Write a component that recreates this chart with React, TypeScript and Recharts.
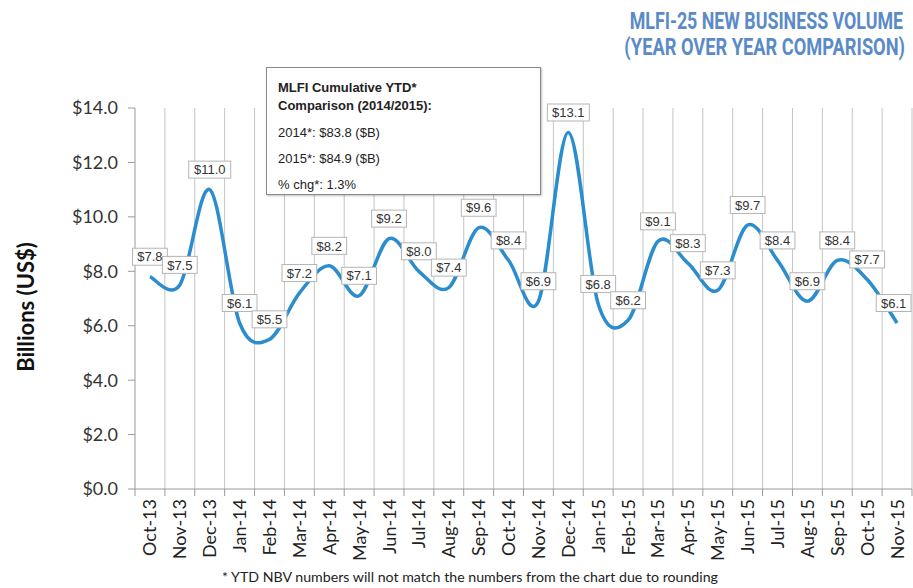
import React from 'react';
import { LineChart, Line, XAxis, YAxis, CartesianGrid } from 'recharts';

const months = ['Oct-13','Nov-13','Dec-13','Jan-14','Feb-14','Mar-14','Apr-14','May-14','Jun-14','Jul-14','Aug-14','Sep-14','Oct-14','Nov-14','Dec-14','Jan-15','Feb-15','Mar-15','Apr-15','May-15','Jun-15','Jul-15','Aug-15','Sep-15','Oct-15','Nov-15'];
const volumes = [7.8,7.5,11.0,6.1,5.5,7.2,8.2,7.1,9.2,8.0,7.4,9.6,8.4,6.9,13.1,6.8,6.2,9.1,8.3,7.3,9.7,8.4,6.9,8.4,7.7,6.1];
const yTicks = [0,2,4,6,8,10,12,14];
const titleLines = ['MLFI-25 NEW BUSINESS VOLUME','(YEAR OVER YEAR COMPARISON)'];
const boxLines = ['MLFI Cumulative YTD*','Comparison (2014/2015):','2014*: $83.8 ($B)','2015*: $84.9  ($B)','% chg*: 1.3%'];
const footnote = '*  YTD NBV numbers will not match the numbers from the chart due to rounding';

const data = months.map((m, i) => ({ month: m, value: volumes[i] }));

const W = 913, H = 588;
const M = { top: 108, right: 1, left: 0, bottom: 0 };
const YW = 135, XH = 99;
const PLOT_W = W - M.left - M.right - YW;
const BAND = PLOT_W / months.length;

const excelSmooth = (context: any) => {
  let pts: number[][] = [];
  return {
    areaStart() {},
    areaEnd() {},
    lineStart() { pts = []; },
    point(x: number, y: number) { pts.push([+x, +y]); },
    lineEnd() {
      if (!pts.length) return;
      context.moveTo(pts[0][0], pts[0][1]);
      for (let i = 0; i < pts.length - 1; i++) {
        const p0 = pts[i - 1] || pts[i];
        const p1 = pts[i];
        const p2 = pts[i + 1];
        const p3 = pts[i + 2] || p2;
        context.bezierCurveTo(
          p1[0] + (p2[0] - p0[0]) / 6, p1[1] + (p2[1] - p0[1]) / 6,
          p2[0] - (p3[0] - p1[0]) / 6, p2[1] - (p3[1] - p1[1]) / 6,
          p2[0], p2[1]
        );
      }
    },
  };
};

const XTick = (props: any) => {
  const { x, y, payload, index } = props;
  const last = index === months.length - 1;
  return (
    <g>
      <line x1={x - BAND / 2} x2={x - BAND / 2} y1={y - 8} y2={y - 1} stroke="#9a9a9a" />
      {last && <line x1={x + BAND / 2} x2={x + BAND / 2} y1={y - 8} y2={y - 1} stroke="#9a9a9a" />}
      <text transform={`translate(${x},${y + 2}) rotate(-90)`} textAnchor="end" dy="0.36em"
        fontFamily="Lato, 'Open Sans', sans-serif" fontSize={18} fill="#222">{payload.value}</text>
    </g>
  );
};

const ValueBox = (props: any) => {
  const { x, y, value } = props;
  const txt = '$' + Number(value).toFixed(1);
  const w = txt.length * 7.2 + 6;
  const h = 17;
  const cy = y - 20;
  const cx = Math.min(x, W - 2 - w / 2);
  return (
    <g>
      <rect x={cx - w / 2} y={cy - h / 2} width={w} height={h} fill="#fff" stroke="#b5b5b5" strokeWidth={1} />
      <text x={cx} y={cy} textAnchor="middle" dy="0.36em" fontFamily="'Liberation Sans', Arial, sans-serif" fontSize={13} fill="#333">{txt}</text>
    </g>
  );
};

const gridX = ({ offset }: any) => {
  const arr: number[] = [];
  for (let i = 1; i <= months.length; i++) arr.push(offset.left + i * (offset.width / months.length));
  return arr;
};

export default function App() {
  return (
    <div style={{ position: 'absolute', left: 0, top: 0, width: W, height: H, background: '#fff', overflow: 'hidden' }}>
      <svg width={W} height={H} style={{ position: 'absolute', left: 0, top: 0 }}>
        <g transform="translate(903,29) scale(0.81,1.05)">
          <text x={0} y={0} textAnchor="end" fontFamily="Roboto, 'Open Sans', sans-serif" fontWeight={700} fontSize={22}
            fill="#5b8bc7">{titleLines[0]}</text>
        </g>
        <g transform="translate(905,55) scale(0.83,1.05)">
          <text x={0} y={0} textAnchor="end" fontFamily="Roboto, 'Open Sans', sans-serif" fontWeight={700} fontSize={22}
            fill="#5b8bc7">{titleLines[1]}</text>
        </g>
        <text transform="translate(34,307) rotate(-90)" textAnchor="middle" fontFamily="Lato, 'Open Sans', sans-serif"
          fontWeight={700} fontSize={22} fill="#111">Billions (US$)</text>
        <text x={222} y={582} fontFamily="Lato, 'Open Sans', sans-serif" fontSize={13} fill="#222"
          textLength={496} lengthAdjust="spacingAndGlyphs">{footnote}</text>
      </svg>
      <div style={{ position: 'absolute', left: 0, top: 0 }}>
        <LineChart width={W} height={H} data={data} margin={M}>
          <CartesianGrid horizontal={false} vertical stroke="#c4c4c4" verticalCoordinatesGenerator={gridX} />
          <XAxis dataKey="month" scale="band" height={XH} interval={0} tickLine={false} stroke="#9a9a9a" tick={<XTick />} />
          <YAxis width={YW} domain={[0, 14]} ticks={yTicks} tickSize={7} tickMargin={10} stroke="#9a9a9a"
            tick={{ fontFamily: "Lato, 'Open Sans', sans-serif", fontSize: 18, fill: '#333' }}
            tickFormatter={(v: number) => '$' + v.toFixed(1)} />
          <Line dataKey="value" type={excelSmooth as any} stroke="#2b8dce" strokeWidth={3.5} dot={false}
            isAnimationActive={false} label={<ValueBox />} />
        </LineChart>
      </div>
      <div style={{ position: 'absolute', left: 266, top: 67, width: 275, height: 128, background: '#fff',
        border: '1px solid #8a8a8a', boxShadow: '1px 1px 2px rgba(0,0,0,0.25)', fontFamily: "'Liberation Sans', Arial, sans-serif",
        fontSize: 13, color: '#222', boxSizing: 'border-box' }}>
        <div style={{ position: 'absolute', left: 11, top: 11, fontWeight: 700, lineHeight: '18px' }}>{boxLines[0]}<br />{boxLines[1]}</div>
        <div style={{ position: 'absolute', left: 11, top: 57 }}>{boxLines[2]}</div>
        <div style={{ position: 'absolute', left: 11, top: 83 }}>{boxLines[3]}</div>
        <div style={{ position: 'absolute', left: 11, top: 109 }}>{boxLines[4]}</div>
      </div>
    </div>
  );
}
